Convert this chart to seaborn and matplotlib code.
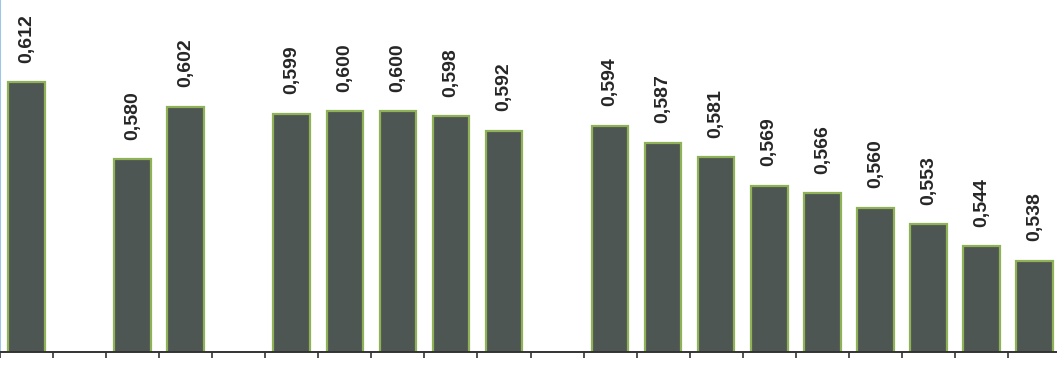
import matplotlib
matplotlib.use("Agg")
import matplotlib.pyplot as plt
import seaborn as sns
import numpy as np
from matplotlib.ticker import FixedLocator, NullLocator

# Slots (gaps are empty group separators)
slots = ["A1", "gap1", "B1", "B2", "gap2", "C1", "C2", "C3", "C4", "C5", "gap3",
         "D1", "D2", "D3", "D4", "D5", "D6", "D7", "D8", "D9"]
categories = ["A1", "B1", "B2", "C1", "C2", "C3", "C4", "C5",
              "D1", "D2", "D3", "D4", "D5", "D6", "D7", "D8", "D9"]
values = [0.612, 0.580, 0.602, 0.599, 0.600, 0.600, 0.598, 0.592,
          0.594, 0.587, 0.581, 0.569, 0.566, 0.560, 0.553, 0.544, 0.538]

sns.set_theme(style="white")
plt.rcParams['font.family'] = ['Liberation Sans', 'DejaVu Sans']

fig = plt.figure(figsize=(10.57, 3.71), dpi=100)
ax = fig.add_axes([0.0, 19 / 371, 1061 / 1057, 361 / 371])

sns.barplot(x=categories, y=values, order=slots, color="#4e5653",
            saturation=1, edgecolor="#8fb256", linewidth=1.6, width=0.69, ax=ax)

ax.set_ylim(0.5, 0.65)
ax.set_xlim(-0.5, len(slots) - 0.5)

for c in ax.containers:
    ax.bar_label(c, fmt=lambda v: f"{v:.3f}".replace(".", ","), rotation=90,
                 padding=14, fontsize=14, fontweight="bold", color="#262626")

for s in ["top", "right"]:
    ax.spines[s].set_visible(False)
ax.spines["left"].set_color("#9fc5e8")
ax.spines["left"].set_linewidth(1.5)
ax.spines["bottom"].set_color("#333333")
ax.spines["bottom"].set_linewidth(1.4)

ax.yaxis.set_major_locator(NullLocator())
ax.xaxis.set_major_locator(FixedLocator(np.arange(-0.5, len(slots), 1.0)))
ax.set_xticklabels([])
ax.tick_params(axis="x", which="major", direction="out", length=4, width=1.2,
               color="#333333", bottom=True)
ax.set_xlabel("")
ax.set_ylabel("")

fig.savefig("out.png", dpi=100)
